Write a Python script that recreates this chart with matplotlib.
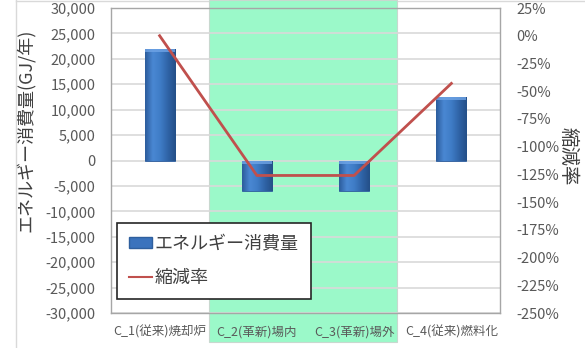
import matplotlib
matplotlib.use("Agg")
import matplotlib.pyplot as plt
import numpy as np
from matplotlib.patches import Rectangle
from matplotlib.lines import Line2D
from matplotlib.colors import LinearSegmentedColormap

plt.rcParams['font.family'] = ['Noto Sans CJK JP', 'DejaVu Sans']

categories = ['C_1(従来)焼却炉', 'C_2(革新)場内', 'C_3(革新)場外', 'C_4(従来)燃料化']
energy = [22000, -6000, -6000, 12500]          # GJ/年
reduction = [0, -126, -126, -43]               # %
left_ticks = list(range(-30000, 30001, 5000))
right_ticks = list(range(-250, 26, 25))

W, H = 585, 348
fig = plt.figure(figsize=(W / 100, H / 100), dpi=100)
fig.patch.set_facecolor('white')

# highlighted band behind the innovative cases
fig.patches.append(Rectangle((209 / W, 1 - 342 / H), (397 - 209) / W, 342 / H,
                             transform=fig.transFigure, facecolor='#9bf9c9',
                             edgecolor='#c8d8cf', lw=0.8, zorder=-5))
# outer chart frame
fig.lines.append(Line2D([16 / W, 16 / W], [0, 1], transform=fig.transFigure,
                        color='#d9d9d9', lw=1, zorder=-5))
fig.lines.append(Line2D([16 / W, 1], [1 - 0.5 / H, 1 - 0.5 / H], transform=fig.transFigure,
                        color='#d9d9d9', lw=1, zorder=-5))

ax = fig.add_axes([111 / W, 1 - 313 / H, (500 - 111) / W, (313 - 8) / H])
ax.set_facecolor('none')
ax.set_xlim(-0.5, 3.5)
ax.set_ylim(-30000, 30000)
ax.set_yticks(left_ticks)
ax.set_yticklabels([f'{v:,}' for v in left_ticks])
ax.set_xticks(range(len(categories)))
ax.set_xticklabels(categories)
ax.tick_params(axis='both', length=0, labelcolor='#595959')
ax.tick_params(axis='y', labelsize=10.5, pad=11)
ax.tick_params(axis='x', labelsize=9, pad=9)
ax.grid(axis='y', color='#d9d9d9', lw=1.2, zorder=1)
ax.set_axisbelow(True)
for s in ax.spines.values():
    s.set_color('#a6a6a6')
    s.set_linewidth(1)

# bars with a shaded blue fill
bar_w = 0.31
bars = ax.bar(range(len(categories)), energy, width=bar_w, color='#3b73bd',
              edgecolor='#2f5f9e', lw=0.6, zorder=2)
cmap = LinearSegmentedColormap.from_list(
    'bar', ['#2c5c9c', '#4a88d3', '#3f7cc6', '#2f63a6', '#244f88'])
grad = np.linspace(0, 1, 64).reshape(1, -1)
for b in bars:
    x0, y0 = b.get_x(), b.get_y()
    w, h = b.get_width(), b.get_height()
    im = ax.imshow(grad, cmap=cmap, aspect='auto', zorder=2.1,
                   extent=[x0, x0 + w, y0, y0 + h], interpolation='bicubic')
    im.set_clip_path(b)
    top = max(y0, y0 + h)
    ax.add_patch(Rectangle((x0, top - 600), w, 600, facecolor='#6fa4e6',
                           edgecolor='none', alpha=0.8, zorder=2.2))
ax.set_xlim(-0.5, 3.5)
ax.set_ylim(-30000, 30000)

ax.set_ylabel('エネルギー消費量(GJ/年)', fontsize=13, color='#404040')
ax.yaxis.set_label_coords(-0.195, 0.6)

ax2 = ax.twinx()
ax2.set_ylim(-250, 25)
ax2.set_yticks(right_ticks)
ax2.set_yticklabels([f'{v}%' for v in right_ticks])
ax2.tick_params(axis='y', length=0, labelcolor='#595959', labelsize=10.5, pad=12)
for s in ax2.spines.values():
    s.set_visible(False)
ax2.plot(range(len(categories)), reduction, color='#c0504d', lw=2, zorder=3)

# right axis title
fig.text(568 / W, 1 - 156 / H, '縮減率', fontsize=14, color='#404040',
         rotation=-90, ha='center', va='center')

handles = [Rectangle((0, 0), 1, 1, facecolor='#3b73bd', edgecolor='#2f5f9e'),
           Line2D([0], [0], color='#c0504d', lw=1.5)]
leg = ax2.legend(handles, ['エネルギー消費量', '縮減率'], loc='lower left',
                 bbox_to_anchor=(0.0154, 0.046), borderaxespad=0, fontsize=13,
                 frameon=True, fancybox=False, handlelength=1.3, handleheight=0.5,
                 handletextpad=0.15, labelspacing=0.9, borderpad=0.65,
                 labelcolor='#404040')
leg.get_frame().set_edgecolor('#262626')
leg.get_frame().set_linewidth(1.2)
leg.get_frame().set_facecolor('white')
leg.get_frame().set_alpha(1)

fig.savefig('out.png', dpi=100)
